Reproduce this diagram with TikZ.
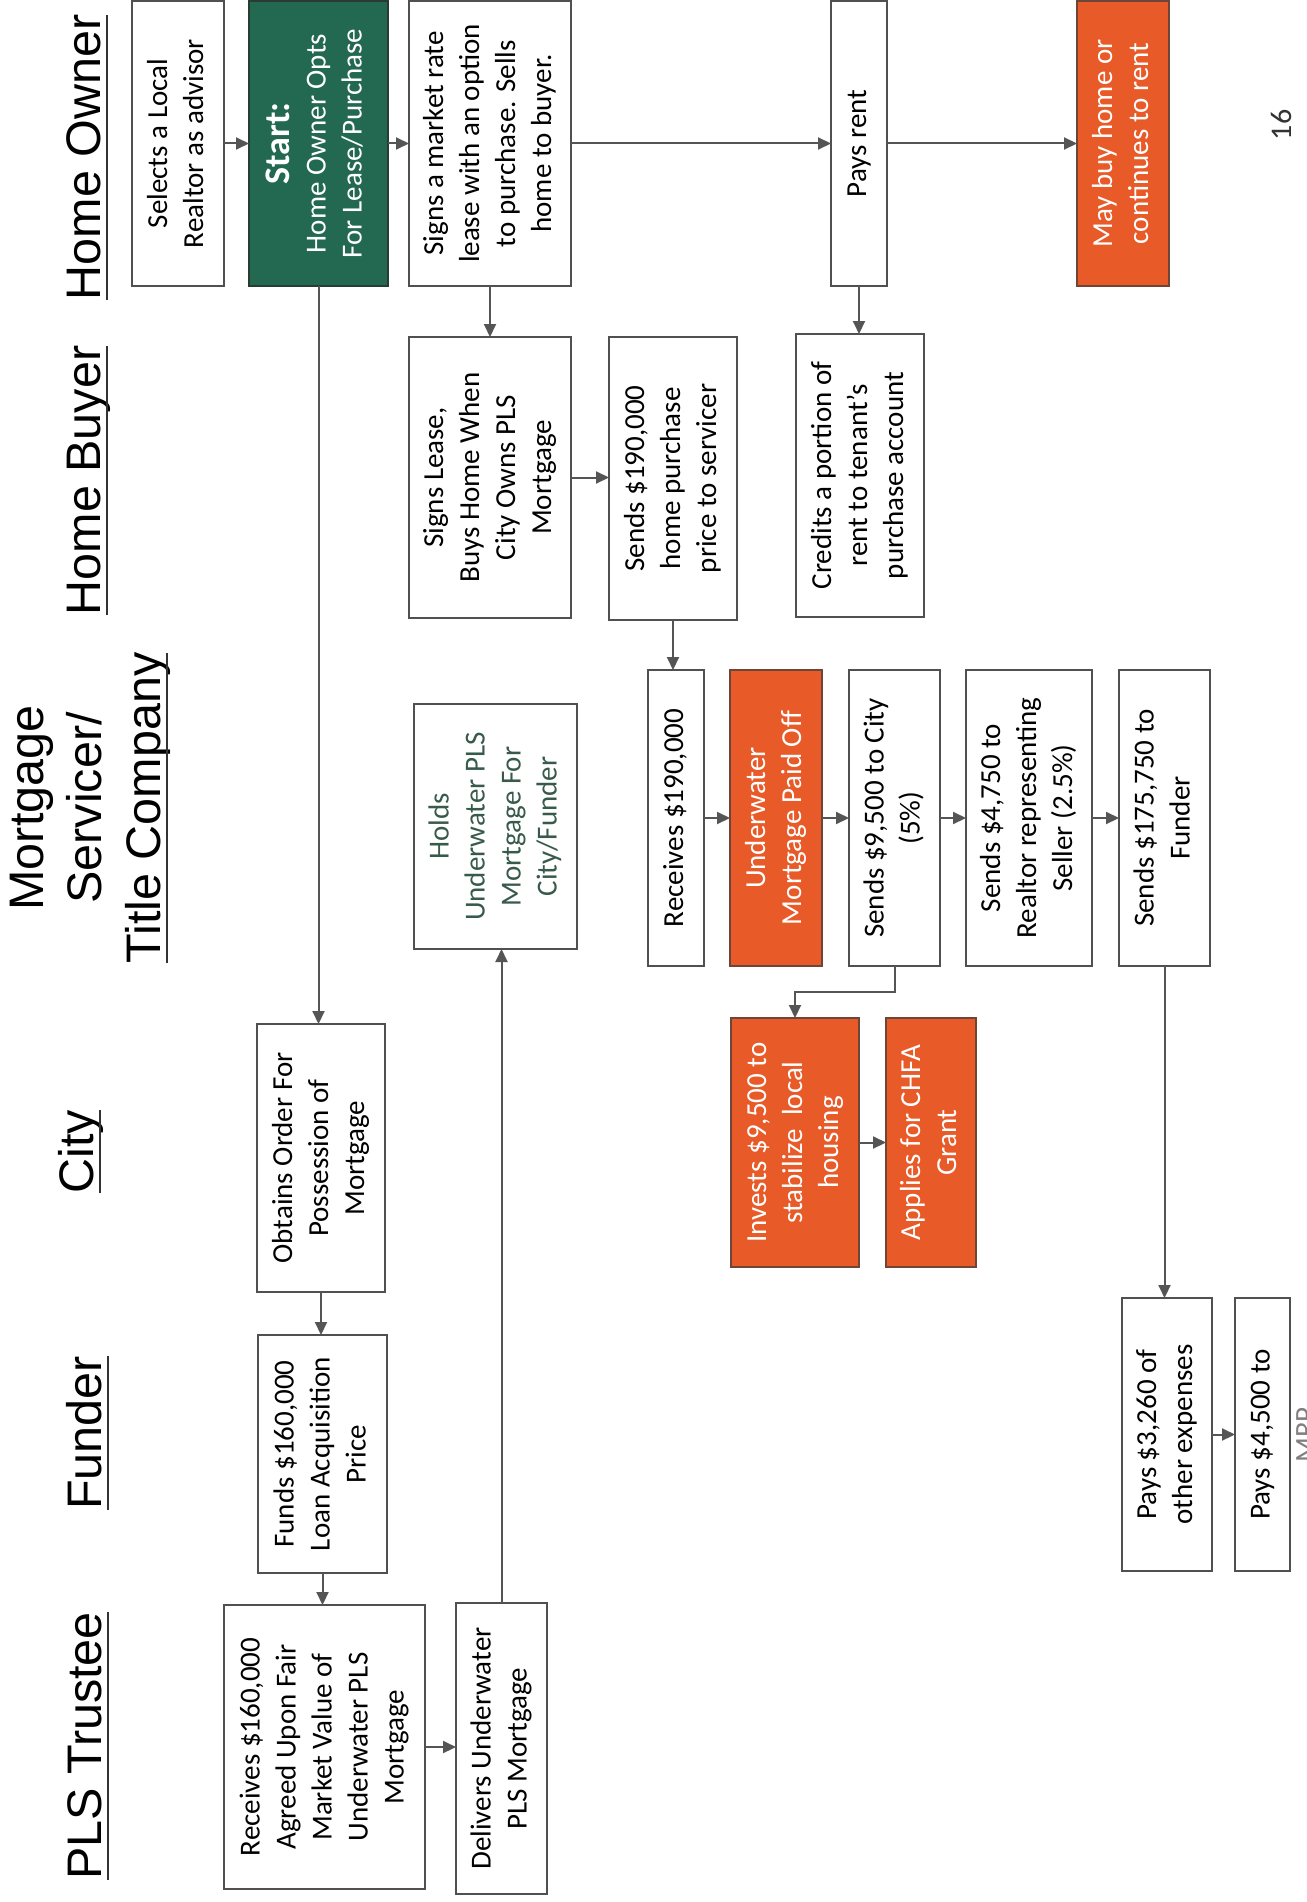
\documentclass[tikz,border=0pt]{standalone}
\usepackage{fontspec}
\usepackage{graphicx}
\setmainfont{Carlito}
\newfontfamily\hdrfont{Liberation Sans}
\usetikzlibrary{arrows.meta,calc}
\definecolor{bord}{RGB}{80,80,80}
\definecolor{arrgray}{RGB}{85,85,85}
\definecolor{startgreen}{RGB}{35,105,82}
\definecolor{greenbord}{RGB}{40,60,50}
\definecolor{orng}{RGB}{232,90,40}
\definecolor{orngbord}{RGB}{110,70,55}
\definecolor{holdtxt}{RGB}{55,90,75}
\newcommand{\rt}[1]{\rotatebox{90}{\begin{tabular}{@{}c@{}}#1\end{tabular}}}
\newcommand{\nodp}[1]{\raisebox{0pt}[\height][0pt]{#1}}
\tikzset{
  box/.style={draw=bord, line width=2pt, fill=white, inner sep=0pt, outer sep=0pt,
    font=\fontsize{29}{36}\selectfont, text=black},
  grn/.style={box, fill=startgreen, draw=greenbord, text=white},
  org/.style={box, fill=orng, draw=orngbord, text=white},
  sz/.style 2 args={minimum width=#1pt, minimum height=#2pt},
  arr/.style={draw=arrgray, line width=2pt, -{Triangle[length=13pt,width=12pt]}},
  hdr/.style={font=\hdrfont\fontsize{48.5}{58}\selectfont, inner sep=0pt, outer sep=0pt, anchor=east},
  uline/.style={draw=black!80, line width=2.5pt},
}
\begin{document}
\begin{tikzpicture}[x=1pt,y=-1pt]
\useasboundingbox[fill=white] (0,0) rectangle (1306,1902);

% headers
\node[hdr] (H1) at (100,157.5) {\rotatebox{90}{\nodp{Home Owner}}};
\node[hdr] (H2) at (100,480.5) {\rotatebox{90}{\nodp{Home Buyer}}};
\node[hdr] (H3a) at (43,808) {\rotatebox{90}{\nodp{Mortgage}}};
\node[hdr] (H3b) at (101,808) {\rotatebox{90}{\nodp{Servicer/}}};
\node[hdr] (H3c) at (160,808) {\rotatebox{90}{\nodp{Title Company}}};
\node[hdr] (H4) at (93,1151.5) {\rotatebox{90}{\nodp{City}}};
\node[hdr] (H5) at (101,1433) {\rotatebox{90}{\nodp{Funder}}};
\node[hdr] (H6) at (101,1746) {\rotatebox{90}{\nodp{PLS Trustee}}};
\foreach \h in {H1,H2,H3c,H4,H5,H6}
  \draw[uline] ([xshift=7pt]\h.south east) -- ([xshift=7pt]\h.north east);

% page number
\node[inner sep=0pt, anchor=east, font=\fontsize{30}{36}\selectfont, text=black!80] (pg) at (1292,125) {\rotatebox{90}{\nodp{16}}};

% row: Home Owner
\node[box, sz={92}{285}] (A1) at (178,143.5) {\rt{Selects a Local\\Realtor as advisor}};
\node[grn, sz={139}{285}] (A2) at (318.5,143.5) {\rt{{\fontsize{36}{40}\selectfont\bfseries Start:}\\Home Owner Opts\\For Lease/Purchase}};
\node[box, sz={162}{285}] (A3) at (490,143.5) {\rt{Signs a market rate\\lease with an option\\to purchase. Sells\\home to buyer.}};
\node[box, sz={56}{285}] (A4) at (859,143.5) {\rt{Pays rent}};
\node[org, sz={92}{285}] (A5) at (1123,143.5) {\rt{May buy home or\\continues to rent}};

% row: Home Buyer
\node[box, sz={162}{281}] (B1) at (490,477.5) {\rt{Signs Lease,\\Buys Home When\\City Owns PLS\\Mortgage}};
\node[box, sz={128}{283}] (B2) at (673,478.5) {\rt{Sends \$190,000\\home purchase\\price to servicer}};
\node[box, sz={128}{283}] (B3) at (860,475.5) {\rt{Credits a portion of\\rent to tenant’s\\purchase account}};

% row: Mortgage Servicer / Title Company
\node[box, sz={163}{245}, text=holdtxt] (C1) at (495.5,826.5) {\rt{Holds\\Underwater PLS\\Mortgage For\\City/Funder}};
\node[box, sz={56}{296}] (C2) at (676,818) {\rt{Receives \$190,000}};
\node[org, sz={92}{296}] (C3) at (776,818) {\rt{Underwater\\Mortgage Paid Off}};
\node[box, sz={91}{296}] (C4) at (894.5,818) {\rt{Sends \$9,500 to City\\(5\%)}};
\node[box, sz={126}{296}] (C5) at (1029,818) {\rt{Sends \$4,750 to\\Realtor representing\\Seller (2.5\%)}};
\node[box, sz={91}{296}] (C6) at (1164.5,818) {\rt{Sends \$175,750 to\\Funder}};

% row: City
\node[box, sz={128}{268}] (D1) at (321,1158) {\rt{Obtains Order For\\Possession of\\Mortgage}};
\node[org, sz={128}{249}] (D2) at (795,1142.5) {\rt{Invests \$9,500 to\\stabilize\ \ local\\housing}};
\node[org, sz={90}{249}] (D3) at (931,1142.5) {\rt{Applies for CHFA\\Grant}};

% row: Funder
\node[box, sz={129}{238}] (E1) at (322.5,1454) {\rt{Funds \$160,000\\Loan Acquisition\\Price}};
\node[box, sz={90}{273}] (E2) at (1167,1434.5) {\rt{Pays \$3,260 of\\other expenses}};
\node[box, sz={55}{273}] (E3) at (1262.5,1434.5) {\rt{Pays \$4,500 to}};
\node[inner sep=0pt, anchor=east, font=\fontsize{29}{36}\selectfont, text=black!50] (E3b) at (1315,1435) {\rotatebox{90}{\nodp{MRP}}};

% row: PLS Trustee
\node[box, sz={201}{284}] (F1) at (324.5,1747) {\rt{Receives \$160,000\\Agreed Upon Fair\\Market Value of\\Underwater PLS\\Mortgage}};
\node[box, sz={91}{291}] (F2) at (501.5,1748.5) {\rt{Delivers Underwater\\PLS Mortgage}};

% connectors
\draw[arr] (A1.east) -- (A2.west);
\draw[arr] (A2.east) -- (A3.west);
\draw[arr] (A3.east) -- (A4.west);
\draw[arr] (A4.east) -- (A5.west);
\draw[arr] (A3.south) -- (A3.south |- B1.north);
\draw[arr] (A4.south) -- (A4.south |- B3.north);
\draw[arr] (A2.south) -- (A2.south |- D1.north);
\draw[arr] (B1.east) -- (B1.east -| B2.west);
\draw[arr] (B2.south) -- (B2.south |- C2.north);
\draw[arr] (C2.east) -- (C3.west);
\draw[arr] (C3.east) -- (C4.west);
\draw[arr] (C4.east) -- (C5.west);
\draw[arr] (C5.east) -- (C6.west);
\draw[arr] (C4.south) -- ++(0,26) -| (D2.north);
\draw[arr] (D2.east) -- (D3.west);
\draw[arr] (C6.south) -- (C6.south |- E2.north);
\draw[arr] (E2.east) -- (E3.west);
\draw[arr] (D1.south) -- (D1.south |- E1.north);
\draw[arr] (E1.south) -- (E1.south |- F1.north);
\draw[arr] (F1.east) -- (F1.east -| F2.west);
\draw[arr] (F2.north) -- (F2.north |- C1.south);
\end{tikzpicture}
\end{document}
